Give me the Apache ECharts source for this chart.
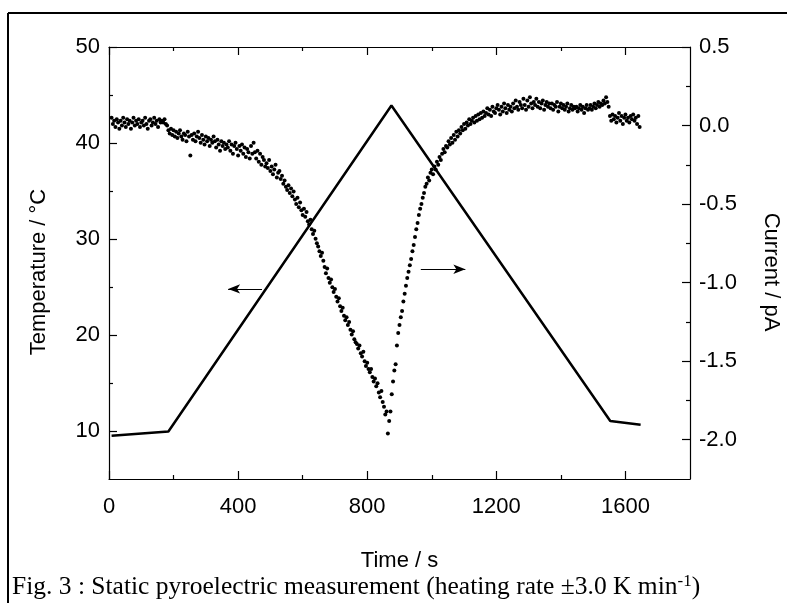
<!DOCTYPE html>
<html>
<head>
<meta charset="utf-8">
<script src="https://cdn.jsdelivr.net/npm/echarts@6/dist/echarts.min.js"></script>
<style>
  html, body { margin: 0; padding: 0; background: #fff; }
  #pyroChart { width: 787px; height: 603px; }
</style>
</head>
<body>
<div id="pyroChart"></div>
<script>
(function() {
  // static pyroelectric measurement: temperature ramp + current
  const chart = echarts.init(document.getElementById('pyroChart'));

  // temperature ramp (left axis)
  const tempTime = [8, 184, 875, 1553, 1647];
  const tempValue = [9.5, 9.95, 43.9, 11.05, 10.65];

  // current readings (right axis), one every 4 s from t = 8 s
  const currentStart = 8;
  const currentStep = 4;
  const currentValue = [
    0.05, 0.01, 0.03, -0.01, 0.04, 0.02, -0.02, 0.03, 0.00, 0.05,
    0.02, -0.01, 0.04, 0.01, 0.03, -0.02, 0.02, 0.05, 0.00, 0.03,
    0.01, 0.04, -0.01, 0.02, 0.03, 0.00, 0.05, 0.01, -0.02, 0.03,
    0.04, 0.00, 0.02, 0.05, 0.01, 0.03, -0.01, 0.04, 0.02, 0.03,
    0.02, 0.04, 0.01, 0.00, -0.03, -0.05, -0.02, -0.06, -0.03, -0.07,
    -0.04, -0.08, -0.05, -0.03, -0.07, -0.09, -0.05, -0.06, -0.10, -0.04,
    -0.07, -0.19, -0.06, -0.09, -0.05, -0.10, -0.07, -0.04, -0.08, -0.11,
    -0.06, -0.09, -0.12, -0.07, -0.10, -0.08, -0.13, -0.09, -0.11, -0.07,
    -0.10, -0.14, -0.09, -0.12, -0.16, -0.10, -0.13, -0.11, -0.15, -0.12,
    -0.14, -0.10, -0.16, -0.12, -0.18, -0.13, -0.11, -0.15, -0.19, -0.13,
    -0.16, -0.12, -0.18, -0.14, -0.20, -0.15, -0.17, -0.21, -0.13, -0.18,
    -0.11, -0.17, -0.21, -0.16, -0.23, -0.18, -0.25, -0.20, -0.22, -0.26,
    -0.24, -0.27, -0.22, -0.29, -0.26, -0.31, -0.28, -0.25, -0.33, -0.30,
    -0.29, -0.34, -0.32, -0.37, -0.35, -0.39, -0.41, -0.38, -0.43, -0.40,
    -0.45, -0.42, -0.47, -0.50, -0.46, -0.52, -0.49, -0.54, -0.57, -0.53,
    -0.58, -0.55, -0.61, -0.63, -0.60, -0.66, -0.69, -0.67, -0.72, -0.75,
    -0.77, -0.80, -0.83, -0.81, -0.86, -0.90, -0.94, -0.91, -0.97, -1.00,
    -0.98, -1.03, -1.06, -1.04, -1.09, -1.12, -1.10, -1.15, -1.18, -1.16,
    -1.21, -1.24, -1.22, -1.27, -1.25, -1.30, -1.33, -1.31, -1.36, -1.38,
    -1.39, -1.42, -1.40, -1.45, -1.47, -1.44, -1.50, -1.53, -1.51, -1.55,
    -1.57, -1.55, -1.60, -1.63, -1.61, -1.66, -1.64, -1.70, -1.73, -1.69,
    -1.76, -1.79, -1.84, -1.82, -1.96, -1.88, -1.82, -1.71, -1.63, -1.56,
    -1.52, -1.40, -1.32, -1.27, -1.22, -1.18, -1.12, -1.07, -1.02, -0.97,
    -0.93, -0.89, -0.85, -0.80, -0.76, -0.71, -0.66, -0.62, -0.57, -0.53,
    -0.50, -0.46, -0.43, -0.39, -0.37, -0.33, -0.35, -0.30, -0.28, -0.31,
    -0.26, -0.28, -0.23, -0.25, -0.20, -0.22, -0.18, -0.15, -0.17, -0.13,
    -0.14, -0.10, -0.12, -0.08, -0.11, -0.06, -0.09, -0.04, -0.07, -0.03,
    -0.05, -0.01, -0.03, 0.01, -0.02, 0.02, 0.00, 0.04, 0.01, 0.03,
    0.05, 0.02, 0.06, 0.03, 0.07, 0.04, 0.08, 0.05, 0.09, 0.06,
    0.08, 0.11, 0.07, 0.10, 0.06, 0.12, 0.09, 0.08, 0.11, 0.13,
    0.10, 0.07, 0.12, 0.09, 0.14, 0.11, 0.08, 0.13, 0.10, 0.12,
    0.09, 0.14, 0.11, 0.16, 0.12, 0.10, 0.15, 0.13, 0.11, 0.17,
    0.13, 0.10, 0.16, 0.12, 0.18, 0.14, 0.11, 0.15, 0.13, 0.17,
    0.12, 0.15, 0.11, 0.14, 0.16, 0.10, 0.13, 0.15, 0.12, 0.14,
    0.11, 0.14, 0.10, 0.13, 0.12, 0.15, 0.09, 0.12, 0.14, 0.11,
    0.13, 0.10, 0.12, 0.14, 0.09, 0.11, 0.13, 0.10, 0.12, 0.11,
    0.12, 0.09, 0.11, 0.13, 0.10, 0.12, 0.08, 0.11, 0.13, 0.10,
    0.11, 0.13, 0.10, 0.12, 0.14, 0.11, 0.13, 0.15, 0.12, 0.14,
    0.13, 0.16, 0.14, 0.18, 0.15, 0.12, 0.06, 0.03, 0.07, 0.04,
    0.06, 0.02, 0.05, 0.08, 0.03, 0.06, 0.01, 0.05, 0.07, 0.03,
    0.05, 0.02, 0.06, 0.04, 0.07, 0.03, 0.05, 0.01, 0.06, -0.01
  ];

  // axis ranges and ticks
  const timeRange = [0, 1800];
  const timeMajor = [0, 400, 800, 1200, 1600];
  const timeMinor = [200, 600, 1000, 1400];
  const tempRange = [5, 50];
  const tempMajor = [10, 20, 30, 40, 50];
  const tempMinor = [15, 25, 35, 45];
  const currentRange = [-2.25, 0.5];
  const currentMajor = [-2, -1.5, -1, -0.5, 0, 0.5];
  const currentMinor = [-1.75, -1.25, -0.75, -0.25, 0.25];

  // annotation arrows: [start, end] in data units
  const tempArrow = [[474, 24.8], [369, 24.8]];
  const currentArrow = [[966, -0.915], [1104, -0.915]];

  const font = 'Liberation Sans, Arial, sans-serif';
  const labelStyle = { color: '#000', fontFamily: font, fontSize: 22 };
  const lineColor = '#000';

  function tickAxis(pos, range, ticks, len, showLine) {
    return {
      type: 'value',
      position: pos,
      min: range[0],
      max: range[1],
      axisLine: { show: showLine, onZero: false, lineStyle: { color: lineColor, width: 1.2 } },
      axisTick: { show: true, inside: true, length: len, customValues: ticks,
        lineStyle: { color: lineColor, width: 1.2 } },
      axisLabel: { show: false },
      splitLine: { show: false }
    };
  }

  function arrowLine(points) {
    return {
      silent: true,
      symbol: ['none', 'arrow'],
      symbolSize: [7, 12],
      lineStyle: { color: '#000', width: 1.2, type: 'solid' },
      label: { show: false },
      emphasis: { disabled: true },
      data: [[{ coord: points[0] }, { coord: points[1] }]]
    };
  }

  const bottomAxis = tickAxis('bottom', timeRange, timeMajor, 8, true);
  bottomAxis.axisLabel = Object.assign({
    show: true, margin: 17, customValues: timeMajor,
    formatter: function(v) { return String(v); }
  }, labelStyle);
  bottomAxis.name = 'Time / s';
  bottomAxis.nameLocation = 'middle';
  bottomAxis.nameGap = 71;
  bottomAxis.nameTextStyle = labelStyle;

  const leftAxis = tickAxis('left', tempRange, tempMajor, 8, true);
  leftAxis.axisLabel = Object.assign({
    show: true, margin: 9, customValues: tempMajor,
    formatter: function(v) { return String(v); }
  }, labelStyle);
  leftAxis.name = 'Temperature / °C';
  leftAxis.nameLocation = 'middle';
  leftAxis.nameGap = 59;
  leftAxis.nameRotate = 90;
  leftAxis.nameTextStyle = Object.assign({ padding: [0, 18, 0, 0] }, labelStyle);

  const rightAxis = tickAxis('right', currentRange, currentMajor, 8, true);
  rightAxis.axisLabel = Object.assign({
    show: true, margin: 9, customValues: currentMajor,
    formatter: function(v) { return v.toFixed(1); }
  }, labelStyle);
  rightAxis.name = 'Current / pA';
  rightAxis.nameLocation = 'middle';
  rightAxis.nameGap = 70;
  rightAxis.nameRotate = -90;
  rightAxis.nameTextStyle = Object.assign({ padding: [0, 0, 0, 18] }, labelStyle);

  const option = {
    animation: false,
    backgroundColor: '#fff',
    grid: { left: 109, top: 47, width: 581, height: 432, containLabel: false, outerBoundsMode: 'none' },
    xAxis: [
      bottomAxis,
      tickAxis('bottom', timeRange, timeMinor, 4, false),
      tickAxis('top', timeRange, timeMajor, 8, true),
      tickAxis('top', timeRange, timeMinor, 4, false)
    ],
    yAxis: [
      leftAxis,
      rightAxis,
      tickAxis('left', tempRange, tempMinor, 4, false),
      tickAxis('right', currentRange, currentMinor, 4, false)
    ],
    graphic: [
      { type: 'line', shape: { x1: 8, y1: 13, x2: 787, y2: 13 }, style: { stroke: '#000', lineWidth: 2 } },
      { type: 'line', shape: { x1: 8, y1: 13, x2: 8, y2: 603 }, style: { stroke: '#000', lineWidth: 2 } },
      {
        type: 'text', left: 12, top: 573,
        style: {
          text: '{t|Fig. 3 : Static pyroelectric measurement (heating rate ±3.0 K min}{s|-1}{t|)}',
          rich: {
            t: { fontFamily: 'Liberation Serif, Times New Roman, serif', fontSize: 25.5, fill: '#000' },
            s: { fontFamily: 'Liberation Serif, Times New Roman, serif', fontSize: 17, fill: '#000', verticalAlign: 'top', padding: [0, 0, 12, 0] }
          }
        }
      }
    ],
    series: [
      {
        type: 'line',
        xAxisIndex: 0,
        yAxisIndex: 0,
        symbol: 'none',
        lineStyle: { color: '#000', width: 2.5 },
        data: tempTime.map(function(t, i) { return [t, tempValue[i]]; }),
        markLine: arrowLine(tempArrow)
      },
      {
        type: 'scatter',
        xAxisIndex: 0,
        yAxisIndex: 1,
        symbolSize: 4,
        itemStyle: { color: '#000', opacity: 1 },
        data: currentValue.map(function(v, i) { return [currentStart + i * currentStep, v]; }),
        markLine: arrowLine(currentArrow)
      }
    ]
  };
  chart.setOption(option);
}());
</script>
</body>
</html>
